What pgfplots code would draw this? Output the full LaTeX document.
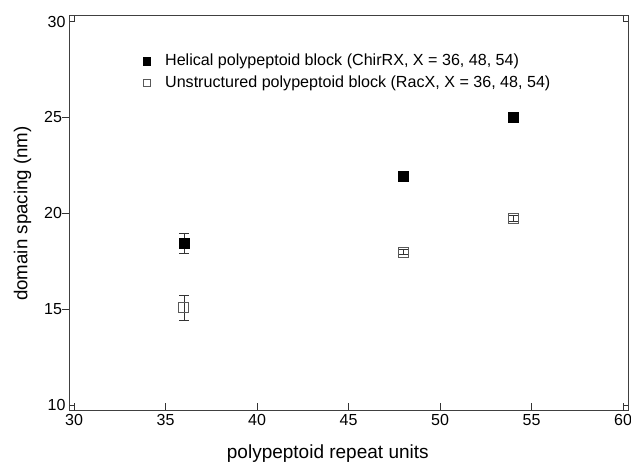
\documentclass[border=0pt]{standalone}
\usepackage{pgfplots}
\pgfplotsset{compat=1.18}
\usepackage{fontspec}
\setmainfont{Liberation Sans}
\begin{document}
\begin{tikzpicture}[x=1pt,y=1pt]
\begin{axis}[
  name=ax,
  scale only axis,
  width=558pt, height=395pt,
  xmin=29.78, xmax=60.27, ymin=9.69, ymax=30.29,
  xtick={30,35,...,60}, ytick={15,20,25},
  extra y ticks={10,30}, extra y tick labels={10,30},
  extra y tick style={ytick pos=both, ytick align=inside, major tick length=5pt, yticklabel style={xshift=-4pt}},
  extra x ticks={30,60}, extra x tick labels={},
  extra x tick style={xtick pos=both, xtick align=inside, major tick length=5pt},
  /pgf/number format/assume math mode=true,
  tick label style={font=\fontsize{16}{18}\selectfont},
  yticklabel style={xshift=3pt},
  xtick pos=bottom, ytick pos=left,
  x tick style={line width=0.8pt, black!80},
  y tick style={line width=0.8pt, black!80},
  xtick align=inside, ytick align=outside,
  major tick length=7.5pt,
  axis line style={line width=1pt, black!75},
  xlabel={polypeptoid repeat units},
  ylabel={domain spacing (nm)},
  xlabel style={font=\fontsize{19}{22}\selectfont, at={(axis description cs:0.462,0)}, anchor=north, yshift=-30pt},
  ylabel style={font=\fontsize{18.7}{21}\selectfont, at={(axis description cs:-0.0851,0.5)}, anchor=center},
  legend style={draw=none, fill=none, at={(rel axis cs:0.13,0.904)}, anchor=north west,
    font=\fontsize{16.1}{18}\selectfont, row sep=8pt, inner sep=0pt,
    nodes={inner sep=0pt, text height=11pt, text depth=3pt}},
  legend cell align=left,
  legend image code/.code={\draw[#1, mark size=3.6pt] plot coordinates {(0pt,0pt)}; \path (-4pt,0pt) (18pt,0pt);},
]
\addplot[only marks, mark=square*, mark size=5pt, black, mark options={fill=black},
  error bars/.cd, y dir=both, y explicit, error mark options={rotate=90, mark size=4.8pt, line width=0.6pt}, error bar style={line width=0.6pt, black!80}]
  coordinates {(36,18.44) +- (0,0.52) (48,21.95) +- (0,0.1) (54,25.02) +- (0,0.1)};
\addlegendentry{Helical polypeptoid block (ChirRX, X = 36, 48, 54)}
\addplot[only marks, mark=square, mark size=5pt, black!65, mark options={line width=0.8pt},
  error bars/.cd, y dir=both, y explicit, error mark options={rotate=90, mark size=4.8pt, line width=0.6pt}, error bar style={line width=0.6pt, black!80}]
  coordinates {(36,15.07) +- (0,0.66) (48,17.98) +- (0,0.12) (54,19.74) +- (0,0.15)};
\addlegendentry{Unstructured polypeptoid block (RacX, X = 36, 48, 54)}
\end{axis}
\pgfresetboundingbox
\path ([shift={(-70pt,-56pt)}]ax.south west) rectangle ([shift={(3pt,16pt)}]ax.north east);
\end{tikzpicture}
\end{document}
